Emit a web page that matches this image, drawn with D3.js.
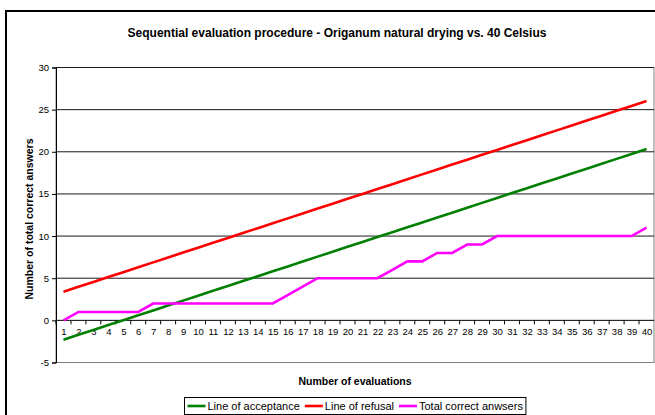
<!DOCTYPE html>
<html>
<head>
<meta charset="utf-8">
<script src="https://cdn.jsdelivr.net/npm/d3@7"></script>
<style>
  body { margin: 0; background: #fff; }
  svg { display: block; font-family: "Liberation Sans", Arial, sans-serif; }
</style>
</head>
<body>
<script>
// sequential evaluation chart
var categories = ['1','2','3','4','5','6','7','8','9','10','11','12','13','14','15','16','17','18','19','20',
                  '21','22','23','24','25','26','27','28','29','30','31','32','33','34','35','36','37','38','39','40'];

var acceptance = [-2.3, -1.72, -1.14, -0.56, 0.02, 0.6, 1.18, 1.76, 2.34, 2.92,
                  3.5, 4.08, 4.66, 5.24, 5.82, 6.4, 6.98, 7.56, 8.14, 8.72,
                  9.3, 9.88, 10.46, 11.04, 11.62, 12.2, 12.78, 13.36, 13.94, 14.52,
                  15.1, 15.68, 16.26, 16.84, 17.42, 18.0, 18.58, 19.16, 19.74, 20.32];

var refusal = [3.4, 3.98, 4.56, 5.14, 5.72, 6.3, 6.88, 7.46, 8.04, 8.62,
               9.2, 9.78, 10.36, 10.94, 11.52, 12.1, 12.68, 13.26, 13.84, 14.42,
               15.0, 15.58, 16.16, 16.74, 17.32, 17.9, 18.48, 19.06, 19.64, 20.22,
               20.8, 21.38, 21.96, 22.54, 23.12, 23.7, 24.28, 24.86, 25.44, 26.02];

var totalCorrect = [0, 1, 1, 1, 1, 1, 2, 2, 2, 2,
                    2, 2, 2, 2, 2, 3, 4, 5, 5, 5,
                    5, 5, 6, 7, 7, 8, 8, 9, 9, 10,
                    10, 10, 10, 10, 10, 10, 10, 10, 10, 11];

var yTicks = [-5, 0, 5, 10, 15, 20, 25, 30];

var seriesNames = ['Line of acceptance', 'Line of refusal', 'Total correct anwsers'];
var seriesColors = ['#008000', '#ff0000', '#ff00ff'];

var svgWidth = 655, svgHeight = 415;
var plotLeft = 56, plotRight = 654, plotTop = 67.5, plotBottom = 362.5;

var svg = d3.select('body').append('svg').attr('width', svgWidth).attr('height', svgHeight);

// outer chart border
svg.append('rect')
   .attr('x', 6).attr('y', 11)
   .attr('width', 680).attr('height', 430)
   .attr('fill', 'none').attr('stroke', '#000').attr('stroke-width', 2);

var x = d3.scalePoint().domain(categories).range([plotLeft, plotRight]).padding(0.5);
var xBand = d3.scaleBand().domain(categories).range([plotLeft, plotRight]);
var y = d3.scaleLinear().domain([-5, 30]).range([plotBottom, plotTop]);

// plot area border
svg.append('rect')
   .attr('x', plotLeft).attr('y', plotTop)
   .attr('width', plotRight - plotLeft).attr('height', plotBottom - plotTop)
   .attr('fill', '#fff').attr('stroke', '#808080').attr('stroke-width', 1);

// gridlines
svg.selectAll('line.grid')
   .data(yTicks.filter(function (d) { return d > 0; }))
   .enter()
   .append('line')
   .attr('class', 'grid')
   .attr('x1', plotLeft).attr('x2', plotRight)
   .attr('y1', function (d) { return y(d); })
   .attr('y2', function (d) { return y(d); })
   .attr('stroke', '#1a1a1a').attr('stroke-width', 1);

// y axis
var yAxis = svg.append('g')
   .attr('transform', 'translate(' + plotLeft + ',0)')
   .call(d3.axisLeft(y).tickValues(yTicks).tickSize(4).tickPadding(3)
      .tickFormat(function (d) { return String(d); }));
yAxis.select('.domain').attr('stroke', '#000');
yAxis.selectAll('text').attr('font-size', '9.5px').attr('fill', '#000').attr('font-family', '"Liberation Sans", Arial, sans-serif');

// x axis at zero
var xAxis = svg.append('g')
   .attr('transform', 'translate(0,' + y(0) + ')')
   .call(d3.axisBottom(x).tickSize(0).tickPadding(8));
xAxis.select('.domain').remove();
xAxis.selectAll('text').attr('font-size', '9.5px').attr('fill', '#000').attr('font-family', '"Liberation Sans", Arial, sans-serif');

svg.append('line')
   .attr('x1', plotLeft).attr('x2', plotRight)
   .attr('y1', y(0)).attr('y2', y(0))
   .attr('stroke', '#000').attr('stroke-width', 1);

svg.selectAll('line.xtick')
   .data(categories)
   .enter()
   .append('line')
   .attr('class', 'xtick')
   .attr('x1', function (d) { return xBand(d); })
   .attr('x2', function (d) { return xBand(d); })
   .attr('y1', y(0)).attr('y2', y(0) + 4)
   .attr('stroke', '#000');

// series
var allSeries = [acceptance, refusal, totalCorrect];
var line = d3.line()
   .x(function (d, i) { return x(categories[i]); })
   .y(function (d) { return y(d); });

svg.selectAll('path.series')
   .data(allSeries)
   .enter()
   .append('path')
   .attr('class', 'series')
   .attr('d', line)
   .attr('fill', 'none')
   .attr('stroke', function (d, i) { return seriesColors[i]; })
   .attr('stroke-width', 2.6);

// titles
svg.append('text')
   .attr('x', 337).attr('y', 37)
   .attr('text-anchor', 'middle')
   .attr('font-size', '12px').attr('font-weight', 'bold')
   .text('Sequential evaluation procedure - Origanum natural drying vs. 40 Celsius');

svg.append('text')
   .attr('x', (plotLeft + plotRight) / 2).attr('y', 385)
   .attr('text-anchor', 'middle')
   .attr('font-size', '10.5px').attr('font-weight', 'bold')
   .text('Number of evaluations');

svg.append('text')
   .attr('transform', 'translate(33,' + 219 + ') rotate(-90)')
   .attr('text-anchor', 'middle')
   .attr('font-size', '10.5px').attr('font-weight', 'bold')
   .text('Number of total correct answers');

// legend
var legend = svg.append('g').attr('transform', 'translate(184.5,397.5)');
var legendRect = legend.append('rect')
   .attr('height', 17)
   .attr('fill', '#fff').attr('stroke', '#000').attr('stroke-width', 1);

var lx = 3;
seriesNames.forEach(function (name, i) {
  legend.append('line')
     .attr('x1', lx).attr('x2', lx + 18)
     .attr('y1', 8.5).attr('y2', 8.5)
     .attr('stroke', seriesColors[i]).attr('stroke-width', 2.6);
  var t = legend.append('text')
     .attr('x', lx + 20).attr('y', 12.5)
     .attr('font-size', '11px')
     .text(name);
  lx = lx + 20 + t.node().getComputedTextLength() + 5;
});
legendRect.attr('width', lx - 2);
</script>
</body>
</html>
